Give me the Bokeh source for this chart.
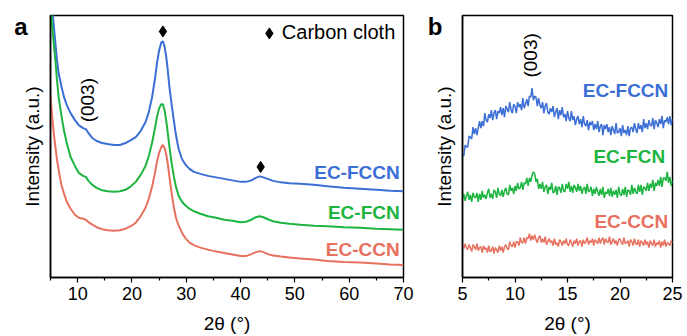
import numpy as np
from bokeh.plotting import figure
from bokeh.layouts import row
from bokeh.models import Label, Range1d, FixedTicker, LinearAxis
from bokeh.embed import file_html
from bokeh.resources import INLINE

# ---------------- data: panel a ----------------
theta_a = [5.0, 5.3, 5.6, 5.9, 6.2, 6.5, 7.0, 7.5, 8.0, 8.7, 9.5, 10.2, 11.0, 11.5, 12.0,
           12.7, 13.5, 14.5, 15.5, 16.7, 17.8, 18.8, 19.8, 20.7, 21.6, 22.5, 23.1, 23.7,
           24.2, 24.6, 25.0, 25.4, 25.7, 26.0, 26.3, 26.6, 26.9, 27.3, 27.7, 28.1, 28.6,
           29.2, 29.9, 30.6, 31.4, 32.6, 34.0, 35.5, 37.0, 38.5, 40.0, 41.0, 42.0, 42.8,
           43.5, 44.2, 45.0, 46.0, 47.4, 49.0, 51.0, 53.5, 56.0, 59.0, 62.0, 65.0, 67.5, 70.0]
fccn_a = [308, 273, 253, 235, 218, 205, 192, 181, 173, 165, 158, 153, 150, 149, 145,
          140, 137, 135, 134, 133, 133, 135, 138, 141, 147, 156, 166, 181,
          198, 215, 228, 236, 237, 232, 222, 208, 191, 174, 158, 143, 129,
          119, 113, 109, 106, 104, 102, 100.5, 99, 97.5, 96, 96, 97.5, 100,
          101.5, 100.5, 99, 97, 95.5, 94.5, 94, 93, 91.5, 90, 89, 88, 87, 86.5]
fcn_a = [282, 253, 235, 218, 198, 181, 163, 147, 135, 121, 112, 105, 102, 101, 97,
         93, 90, 87.5, 86.5, 86, 86.5, 88, 91.5, 96, 103, 112, 122, 135,
         149, 161, 170, 174, 174, 168, 158, 145, 131, 115, 102, 91, 82,
         76, 72, 69, 66.5, 64, 61.5, 60, 58, 57, 55.5, 56, 58, 60.5,
         61.5, 60.5, 58.5, 56.5, 55, 54, 53, 52, 51.5, 50.5, 50, 49, 48.5, 48]
ccn_a = [183, 162, 145, 131, 118, 108, 93, 84, 76, 69, 63, 60, 59, 58, 55.5,
         53, 50.5, 48.5, 47.5, 47, 47.5, 49, 51.5, 55, 61.5, 70, 79, 91,
         104, 116, 125, 131, 133, 130, 124, 114, 101, 85, 71, 60, 52,
         45, 39, 35, 32.5, 30, 28, 26, 24.5, 23, 21.5, 21.5, 23.5, 25.5,
         26.5, 25.5, 23.5, 22, 21, 20, 19, 18, 16.5, 15.5, 15, 14, 13, 12.5]

# ---------------- data: panel b (sampled every 0.125 deg from 5 to 25) ----------------
theta_b = np.linspace(5.0, 25.0, 161)
fccn_b = [123, 122, 133, 131, 131, 142, 141, 139, 151, 144, 150, 143, 150, 157, 150, 157, 152, 165, 158, 156,
          164, 160, 168, 158, 165, 168, 159, 167, 165, 171, 163, 170, 161, 172, 169, 166, 176, 168, 165, 174,
          172, 165, 176, 171, 174, 168, 180, 170, 174, 179, 172, 182, 181, 190, 178, 182, 181, 172, 180, 173,
          170, 176, 165, 172, 175, 166, 164, 170, 166, 172, 161, 166, 170, 159, 168, 163, 171, 161, 164, 157,
          167, 160, 157, 167, 158, 162, 153, 159, 162, 154, 159, 151, 162, 154, 152, 158, 148, 156, 153, 157,
          148, 154, 149, 157, 146, 152, 154, 143, 153, 149, 154, 146, 151, 143, 152, 148, 144, 155, 145, 146,
          150, 142, 153, 145, 148, 143, 152, 142, 150, 151, 146, 155, 149, 145, 155, 149, 153, 146, 159, 150,
          155, 149, 158, 153, 152, 160, 149, 158, 155, 151, 159, 154, 162, 150, 158, 156, 161, 154, 162, 153,
          159]
fcn_b = [79, 84, 77, 82, 86, 78, 83, 76, 85, 81, 80, 85, 76, 84, 78, 87, 80, 83, 79, 85,
         89, 80, 84, 79, 88, 86, 80, 90, 84, 82, 88, 81, 87, 90, 84, 83, 93, 87, 90, 84,
         92, 87, 95, 89, 90, 96, 88, 95, 94, 100, 92, 100, 96, 103, 106, 104, 96, 99, 89, 94,
         89, 96, 86, 91, 93, 84, 91, 88, 95, 85, 86, 92, 83, 91, 90, 85, 94, 87, 86, 94,
         89, 96, 86, 92, 85, 93, 90, 86, 94, 87, 92, 84, 89, 91, 84, 94, 86, 87, 91, 82,
         89, 84, 91, 86, 82, 89, 83, 91, 80, 86, 84, 89, 82, 90, 81, 87, 83, 88, 80, 91,
         84, 82, 89, 83, 91, 81, 88, 87, 83, 93, 84, 90, 86, 84, 93, 86, 93, 83, 91, 90,
         87, 95, 87, 94, 90, 98, 87, 95, 92, 98, 92, 101, 91, 100, 100, 97, 106, 95, 101, 92,
         97]
ccn_b = [32, 29, 34, 30, 28, 33, 30, 26, 33, 31, 28, 34, 27, 30, 31, 25, 32, 28, 30, 25,
         32, 26, 27, 31, 24, 30, 28, 25, 32, 27, 31, 25, 31, 33, 29, 28, 36, 32, 31, 36,
         30, 36, 36, 32, 40, 35, 35, 40, 34, 40, 39, 44, 37, 42, 38, 43, 38, 35, 40, 42,
         35, 39, 35, 41, 33, 36, 39, 35, 37, 32, 39, 33, 35, 31, 38, 36, 32, 37, 34, 39,
         33, 32, 38, 35, 31, 37, 34, 39, 32, 36, 37, 31, 38, 34, 36, 40, 33, 37, 35, 39,
         32, 38, 36, 34, 40, 34, 38, 40, 33, 39, 36, 35, 41, 33, 36, 39, 34, 37, 32, 38,
         39, 35, 33, 40, 34, 35, 37, 31, 38, 36, 32, 39, 34, 33, 38, 31, 37, 35, 32, 38,
         33, 36, 30, 37, 34, 32, 38, 31, 35, 33, 37, 30, 36, 32, 38, 31, 35, 34, 32, 37,
         35]

names = ["EC-FCCN", "EC-FCN", "EC-CCN"]
colors = ["#3b6fd6", "#1db540", "#e8705e"]

ticks_a = [10, 20, 30, 40, 50, 60, 70]
minor_a = [5, 15, 25, 35, 45, 55, 65]
ticks_b = [5, 10, 15, 20, 25]
minor_b = [7.5, 12.5, 17.5, 22.5]

# carbon-cloth reflections marked with diamonds
cc_theta = [25.7, 43.7]
cc_int = [247, 111]

FONT = "Liberation Sans"


def style(p, ticks, minor):
    p.grid.visible = False
    p.outline_line_color = "black"
    p.outline_line_width = 1.5
    p.xaxis.ticker = FixedTicker(ticks=ticks, minor_ticks=minor)
    p.xaxis.major_tick_out = 5
    p.xaxis.major_tick_in = 0
    p.xaxis.minor_tick_out = 3
    p.xaxis.minor_tick_in = 0
    p.xaxis.major_label_text_font = FONT
    p.xaxis.major_label_text_font_size = "18px"
    p.xaxis.major_label_text_color = "black"
    p.xaxis.major_label_standoff = 4
    p.xaxis.axis_label = "2θ (°)"
    p.xaxis.axis_label_text_font = FONT
    p.xaxis.axis_label_text_font_size = "19px"
    p.xaxis.axis_label_text_font_style = "normal"
    p.xaxis.axis_label_text_color = "black"
    p.xaxis.axis_label_standoff = 10
    p.yaxis.ticker = FixedTicker(ticks=[])
    p.yaxis.axis_label = "Intensity (a.u.)"
    p.yaxis.axis_label_text_font = FONT
    p.yaxis.axis_label_text_font_size = "19px"
    p.yaxis.axis_label_text_font_style = "normal"
    p.yaxis.axis_label_text_color = "black"
    p.yaxis.axis_label_standoff = 8
    for ax in (p.xaxis, p.yaxis):
        ax.axis_line_color = "black"
        ax.axis_line_width = 1.5
        ax.major_tick_line_color = "black"
        ax.minor_tick_line_color = "black"
        ax.major_tick_line_width = 1.2
        ax.minor_tick_line_width = 1.2


def panel_letter(p, letter, standoff):
    # outer left axis used only to carry the bold panel letter
    pos = 252
    ax = LinearAxis(ticker=FixedTicker(ticks=[pos]), major_label_overrides={pos: letter},
                    axis_line_color=None, major_tick_line_color=None, minor_tick_line_color=None,
                    major_tick_out=0, major_tick_in=0, minor_tick_out=0, minor_tick_in=0,
                    major_label_standoff=standoff, major_label_text_font=FONT,
                    major_label_text_font_size="24px", major_label_text_font_style="bold",
                    major_label_text_color="black")
    p.add_layout(ax, "left")


def lab(p, x, y, text, color="black", size="19px", bold=True, align="right",
        baseline="middle", angle=0.0):
    p.add_layout(Label(x=x, y=y, text=text,
                       text_color=color, text_font=FONT, text_font_size=size,
                       text_font_style="bold" if bold else "normal",
                       text_align=align, text_baseline=baseline, angle=angle))


# ---------------- panel a ----------------
p1 = figure(width=420, height=336, x_range=Range1d(5, 70), y_range=Range1d(0, 263),
            output_backend="svg", toolbar_location=None,
            min_border_left=50, min_border_right=17, min_border_top=15, min_border_bottom=58)
style(p1, ticks_a, minor_a)
for ys, c in zip([fccn_a, fcn_a, ccn_a], colors):
    p1.line(theta_a, ys, line_color=c, line_width=2)
p1.scatter(cc_theta, cc_int, marker="diamond", size=11, color="black")
p1.scatter([45.3], [245], marker="diamond", size=11, color="black")
lab(p1, 47.6, 246, "Carbon cloth", size="20px", bold=False, align="left")
lab(p1, 69.3, 105, names[0], colors[0])
lab(p1, 69.3, 65, names[1], colors[1])
lab(p1, 69.3, 28, names[2], colors[2])
lab(p1, 11.8, 178, "(003)", size="19px", bold=False, align="center", angle=np.pi / 2)
panel_letter(p1, "a", -9)

# ---------------- panel b ----------------
p2 = figure(width=267, height=336, x_range=Range1d(5, 25), y_range=Range1d(0, 263),
            output_backend="svg", toolbar_location=None,
            min_border_left=42, min_border_right=15, min_border_top=15, min_border_bottom=58)
style(p2, ticks_b, minor_b)
for ys, c in zip([fccn_b, fcn_b, ccn_b], colors):
    p2.line(theta_b, ys, line_color=c, line_width=1.5)
lab(p2, 24.6, 188, names[0], colors[0])
lab(p2, 24.3, 121, names[1], colors[1])
lab(p2, 24.6, 56, names[2], colors[2])
lab(p2, 11.5, 223, "(003)", size="19px", bold=False, align="center", angle=np.pi / 2)
panel_letter(p2, "b", -12)

layout = row(p1, p2)
open("out.html", "w").write(file_html(layout, INLINE))
